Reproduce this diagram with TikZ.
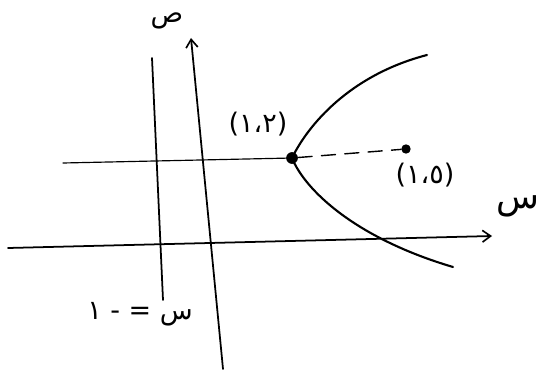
\documentclass[tikz,border=0pt]{standalone}
\usepackage{fontspec}
\newfontfamily\arabicfont[Script=Arabic]{DejaVu Sans}
\TeXXeTstate=1
\usetikzlibrary{arrows.meta}
\begin{document}
\begin{tikzpicture}[
  x=0.03cm, y=-0.03cm,
  >={Straight Barb[length=7pt,width=10pt,line width=1.4pt]},
  every node/.style={inner sep=1pt},
  pen/.style={line width=1.8pt, line cap=round, line join=round},
  labl/.style={font=\arabicfont\fontsize{23}{27}\selectfont},
  pnt/.style={circle, fill=black, inner sep=0pt, minimum size=10pt}
]
\useasboundingbox (0,0) rectangle (540,369);

% Coordinates (pixel grid, y down)
\coordinate (xs) at (8,248);
\coordinate (xe) at (492,236);
\coordinate (ys) at (223,369);
\coordinate (ye) at (191,38);
\coordinate (ds) at (163,300);
\coordinate (de) at (152,58);
\coordinate (hs) at (63,163);
\coordinate (upend) at (427,55);
\coordinate (lowend) at (453,267);

% Nodes
\node[pnt] (vertex) at (292,158) {};
\node[pnt, minimum size=8pt] (focus) at (406,149) {};
\node[labl] (vlab) at (258,124) {(١،٢)};
\node[labl] (flab) at (425,175) {(١،٥)};
\node[labl] (ylab) at (167,21) {ص};
\node[labl, font=\arabicfont\fontsize{30}{34}\selectfont] (xlab) at (518,206) {س};
\node[labl] (dlab) at (140,314) {\beginR س = - ١\endR};

% Lines
\draw[pen, line width=1.5pt, ->] (xs) -- (xe);
\draw[pen, line width=1.5pt, ->] (ys) -- (ye);
\draw[pen, line width=1.5pt] (ds) -- (de);
\draw[pen, line width=1pt] (hs) -- (vertex);
\draw[pen, line width=1.2pt, dash pattern=on 12pt off 8pt] (vertex) -- (focus);
\draw[pen] (vertex.center) .. controls (308,125) and (350,75) .. (upend);
\draw[pen] (vertex.center) .. controls (305,190) and (355,238) .. (lowend);
\end{tikzpicture}
\end{document}
